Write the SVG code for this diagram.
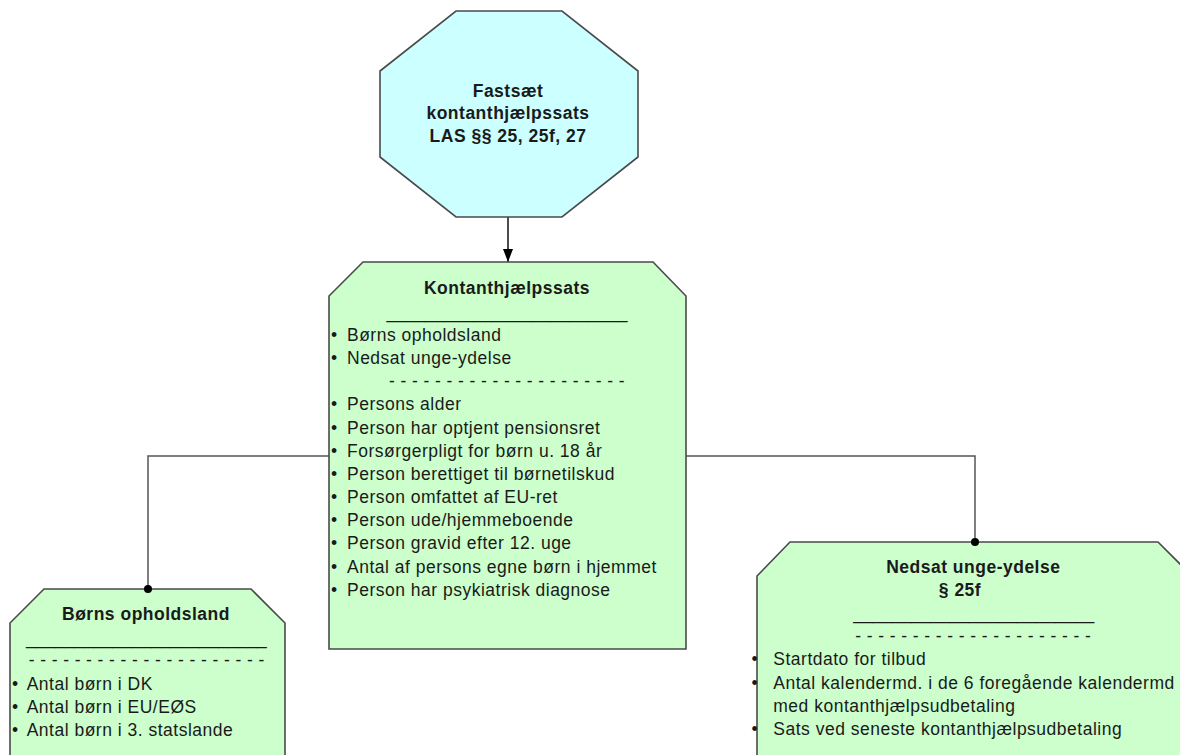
<svg xmlns="http://www.w3.org/2000/svg" width="1180" height="755" viewBox="0 0 1180 755">
<defs>
<style>
.shape{stroke:#4a4a4a;stroke-width:1.6}
.green{fill:#ccffcc}
.cyan{fill:#ccffff}
.conn{fill:none;stroke:#555;stroke-width:1.5}
.dot{fill:#000}
text{font-family:"Liberation Sans",Arial,sans-serif;font-size:17.5px;letter-spacing:0.5px;fill:#1a1a1a}
.b{font-weight:bold}
.c{text-anchor:middle}
.u{letter-spacing:-0.1px}
.d{letter-spacing:0.4px}
</style>
<marker id="arr" markerWidth="14" markerHeight="10" refX="13" refY="5" orient="auto" markerUnits="userSpaceOnUse">
<path d="M0,0 L13,5 L0,10 Z" fill="#000"/>
</marker>
</defs>
<rect width="1180" height="755" fill="#fff"/>

<g id="connectors">
<line x1="508" y1="217" x2="508" y2="262" stroke="#000" stroke-width="1.4" marker-end="url(#arr)"/>
<path class="conn" d="M329,456 H148 V589"/>
<path class="conn" d="M686,456 H975 V542"/>
</g>

<g id="node-fastsaet">
<polygon class="shape cyan" points="456,11 562,11 638,71 638,157 562,217 456,217 380,157 380,71"/>
<text class="b c" x="508" y="96.5">Fastsæt</text>
<text class="b c" x="508" y="119.2">kontanthjælpssats</text>
<text class="b c" x="508" y="141.9">LAS §§ 25, 25f, 27</text>
</g>

<g id="node-kontanthjaelpssats">
<polygon class="shape green" points="363,262 653,262 686,296 686,649 329,649 329,296"/>
<text class="b c" x="507" y="294.3">Kontanthjælpssats</text>
<text class="c u" x="507" y="317.8">_________________________</text>
<text x="331" y="341"><tspan>•</tspan><tspan x="347">Børns opholdsland</tspan></text>
<text x="331" y="364.2"><tspan>•</tspan><tspan x="347">Nedsat unge-ydelse</tspan></text>
<text class="c d" x="507" y="387.4">- - - - - - - - - - - - - - - - - - - - -</text>
<text x="331" y="410.4"><tspan>•</tspan><tspan x="347">Persons alder</tspan></text>
<text x="331" y="433.5"><tspan>•</tspan><tspan x="347">Person har optjent pensionsret</tspan></text>
<text x="331" y="456.7"><tspan>•</tspan><tspan x="347">Forsørgerpligt for børn u. 18 år</tspan></text>
<text x="331" y="479.8"><tspan>•</tspan><tspan x="347">Person berettiget til børnetilskud</tspan></text>
<text x="331" y="503"><tspan>•</tspan><tspan x="347">Person omfattet af EU-ret</tspan></text>
<text x="331" y="526.2"><tspan>•</tspan><tspan x="347">Person ude/hjemmeboende</tspan></text>
<text x="331" y="549.4"><tspan>•</tspan><tspan x="347">Person gravid efter 12. uge</tspan></text>
<text x="331" y="572.6"><tspan>•</tspan><tspan x="347">Antal af persons egne børn i hjemmet</tspan></text>
<text x="331" y="595.8"><tspan>•</tspan><tspan x="347">Person har psykiatrisk diagnose</tspan></text>
</g>

<g id="node-boerns-opholdsland">
<polygon class="shape green" points="44,589 251,589 285,623 285,765 10,765 10,623"/>
<text class="b c" x="146" y="620">Børns opholdsland</text>
<text class="c u" x="146.3" y="643.5">_________________________</text>
<text class="c d" x="146.7" y="666">- - - - - - - - - - - - - - - - - - - - -</text>
<text x="12" y="689.5"><tspan>•</tspan><tspan x="26.7">Antal børn i DK</tspan></text>
<text x="12" y="712.7"><tspan>•</tspan><tspan x="26.7">Antal børn i EU/EØS</tspan></text>
<text x="12" y="735.9"><tspan>•</tspan><tspan x="26.7">Antal børn i 3. statslande</tspan></text>
</g>

<g id="node-nedsat-unge-ydelse">
<polygon class="shape green" points="790,542 1158,542 1192,576 1192,765 757,765 757,576"/>
<text class="b c" x="973.3" y="572.5">Nedsat unge-ydelse</text>
<text class="b c" x="960" y="595.7">§ 25f</text>
<text class="c u" x="973.7" y="618.9">_________________________</text>
<text class="c d" x="973.3" y="642.1">- - - - - - - - - - - - - - - - - - - - -</text>
<text x="751.5" y="665.3"><tspan>•</tspan><tspan x="773.3">Startdato for tilbud</tspan></text>
<text x="751.5" y="688.5"><tspan>•</tspan><tspan x="773.3">Antal kalendermd. i de 6 foregående kalendermd</tspan></text>
<text x="773.3" y="711.7">med kontanthjælpsudbetaling</text>
<text x="751.5" y="734.9"><tspan>•</tspan><tspan x="773.3">Sats ved seneste kontanthjælpsudbetaling</tspan></text>
</g>

<g id="dots">
<circle class="dot" cx="148" cy="589" r="4"/>
<circle class="dot" cx="975" cy="542" r="4"/>
</g>
</svg>
